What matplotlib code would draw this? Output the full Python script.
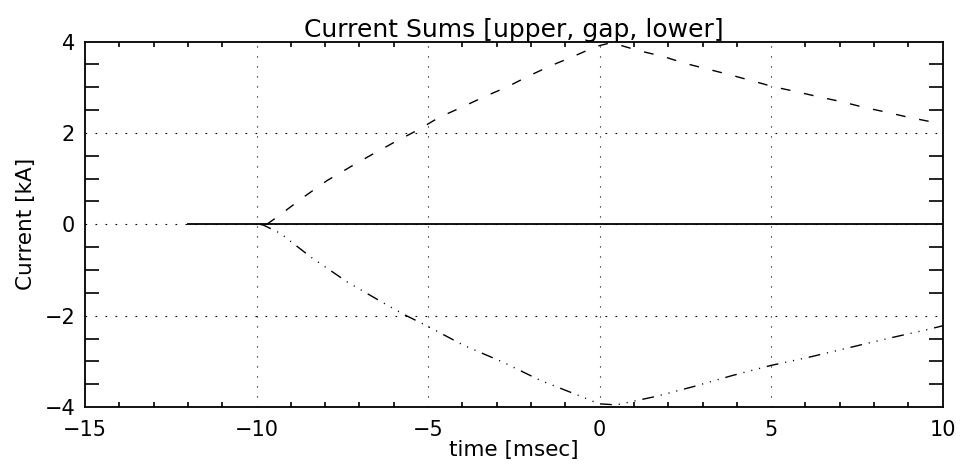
import numpy as np
import matplotlib
matplotlib.use("Agg")
from matplotlib import pyplot as plt
from matplotlib.ticker import MultipleLocator

# upper sum (dashed)
t_upper = [-9.7, -9.4, -8.62, -7.94, -7.26, -6.63, -6.0, -5.31, -4.68, -4.0, -3.37,
           -2.69, -2.06, -1.43, -0.75, -0.12, 0.3, 0.56, 1.15, 1.83, 2.51, 3.14,
           3.82, 4.45, 5.08, 5.76, 6.39, 7.08, 7.71, 8.39, 9.02, 9.7, 10.0]
i_upper = [0.0, 0.16, 0.6, 0.96, 1.26, 1.53, 1.79, 2.06, 2.34, 2.57, 2.79,
           3.01, 3.25, 3.47, 3.68, 3.89, 3.97, 3.93, 3.8, 3.68, 3.52, 3.4,
           3.27, 3.14, 3.01, 2.9, 2.79, 2.68, 2.56, 2.45, 2.34, 2.24, 2.2]

# gap sum (solid)
t_gap = [-12.0, 10.0]
i_gap = [0.0, 0.0]

# lower sum (dash-dot-dot-dot)
t_lower = [-9.9, -9.79, -9.3, -8.43, -7.36, -6.19, -5.66, -5.07, -3.96, -2.84, -1.72,
           -0.6, -0.02, 0.42, 0.51, 1.63, 2.75, 3.87, 4.99, 6.1, 7.22, 8.34, 9.46, 9.85, 10.0]
i_lower = [0.0, -0.02, -0.2, -0.71, -1.26, -1.77, -1.99, -2.21, -2.65, -3.01, -3.42,
           -3.75, -3.93, -3.95, -3.95, -3.77, -3.55, -3.31, -3.09, -2.91, -2.71, -2.51, -2.32, -2.25, -2.22]

plt.rcParams['font.family'] = ['DejaVu Sans']

fig = plt.figure(figsize=(9.6, 4.73), dpi=100)
ax = fig.add_axes([0.0885, 0.1395, 0.8935, 0.7725])

# dotted grid at the major ticks
for x in [-10, -5, 0, 5]:
    ax.axvline(x, color='black', lw=0.8, linestyle=(0, (1, 8)))
for y in [-2, 0, 2]:
    ax.axhline(y, color='black', lw=0.8, linestyle=(0, (1.5, 7.5)))

ax.plot(t_gap, i_gap, color='black', lw=1.3, linestyle='-')
ax.plot(t_upper, i_upper, color='black', lw=1.0, linestyle=(0, (7, 10)))
ax.plot(t_lower, i_lower, color='black', lw=1.0,
        linestyle=(0, (8.5, 5, 0.8, 5, 0.8, 5, 0.8, 5)))

ax.set_xlim(-15, 10)
ax.set_ylim(-4, 4)
ax.xaxis.set_major_locator(MultipleLocator(5))
ax.xaxis.set_minor_locator(MultipleLocator(1))
ax.yaxis.set_major_locator(MultipleLocator(2))
ax.yaxis.set_minor_locator(MultipleLocator(0.5))
ax.tick_params(axis='both', which='both', direction='in', top=True, right=True,
               labelsize=15, width=1.2)
ax.tick_params(axis='x', which='major', length=0, pad=9)
ax.tick_params(axis='x', which='minor', length=3.5)
ax.tick_params(axis='y', which='major', length=0, pad=7)
ax.tick_params(axis='y', which='minor', length=10)
for s in ax.spines.values():
    s.set_linewidth(1.3)

ax.set_title('Current Sums [upper, gap, lower]', fontsize=18, pad=3)
ax.set_xlabel('time [msec]', fontsize=15.5, labelpad=0)
ax.set_ylabel('Current [kA]', fontsize=15.5, labelpad=6)

fig.savefig('out.png', dpi=100)
